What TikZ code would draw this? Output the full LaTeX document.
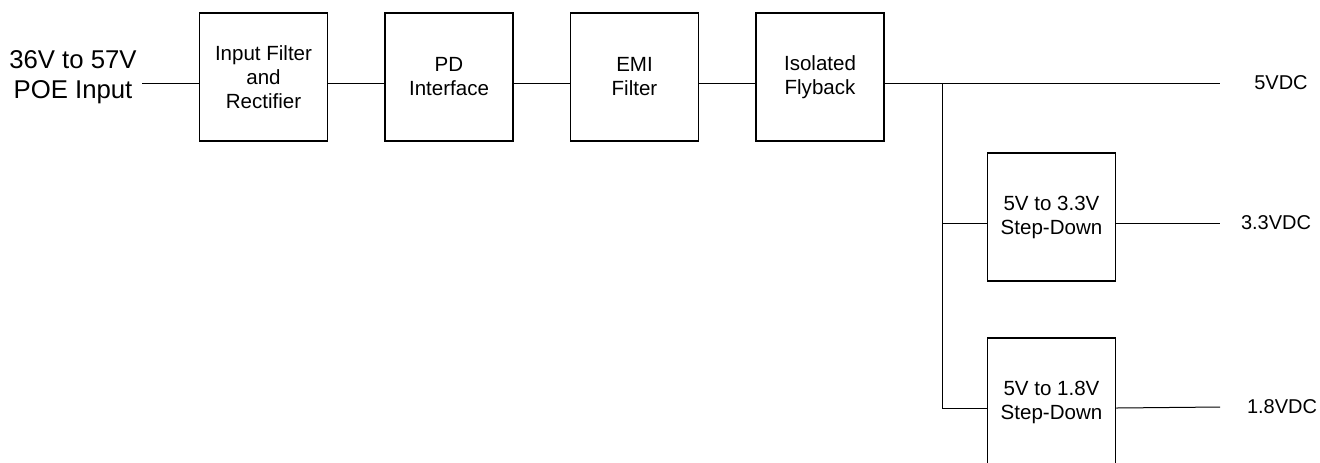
\documentclass[tikz,border=0pt]{standalone}
\usepackage{fontspec}
\setmainfont{Liberation Sans}
\usetikzlibrary{calc}

\begin{document}
\begin{tikzpicture}[x=0.75pt,y=-0.75pt,
    blk/.style={draw,line width=1.1pt,minimum width=96pt,minimum height=96pt,inner sep=0pt,align=center,font=\fontsize{15.4}{18}\selectfont},
    wire/.style={line width=0.75pt},
    rail/.style={font=\fontsize{15}{18}\selectfont}]
    \useasboundingbox (0,0) rectangle (1320,462);
    \node[align=center,inner sep=4pt,font=\fontsize{19.3}{22.5}\selectfont] (poe) at (73,77) {36V to 57V\\POE Input};
    \node[blk] (fltr) at (263.5,77) {Input Filter\\and\\Rectifier};
    \node[blk] (pd) at (449,77) {PD\\Interface};
    \node[blk] (emi) at (634.5,77) {EMI\\Filter};
    \node[blk] (fly) at (820,77) {Isolated\\Flyback};
    \node[blk] (sd33) at (1051.5,217) {5V to 3.3V\\Step-Down};
    \node[blk] (sd18) at (1051.5,402) {5V to 1.8V\\Step-Down};
    \node[rail] (v5) at (1281,83) {5VDC};
    \node[rail] (v33) at (1276,223) {3.3VDC};
    \node[rail] (v18) at (1282,407) {1.8VDC};
    \coordinate (j) at (942,83);
    \coordinate (o5) at (1220,83);
    \coordinate (o33) at (1220,223);
    \coordinate (o18) at (1220,407);
    \coordinate (i33) at ([yshift=-4.5pt]sd33.west);
    \foreach \a/\b in {poe/fltr,fltr/pd,pd/emi,emi/fly}
        \draw[wire] ([yshift=-4.5pt]\a.east) -- ([yshift=-4.5pt]\b.west);
    \draw[wire] ([yshift=-4.5pt]fly.east) -- (o5);
    \draw[wire] (j) |- ([yshift=-4.5pt]sd18.west);
    \draw[wire] (i33 -| j) -- (i33);
    \draw[wire] ([yshift=-4.5pt]sd33.east) -- (o33);
    \draw[wire] ([yshift=-4.5pt]sd18.east) -- (o18);
\end{tikzpicture}
\end{document}
